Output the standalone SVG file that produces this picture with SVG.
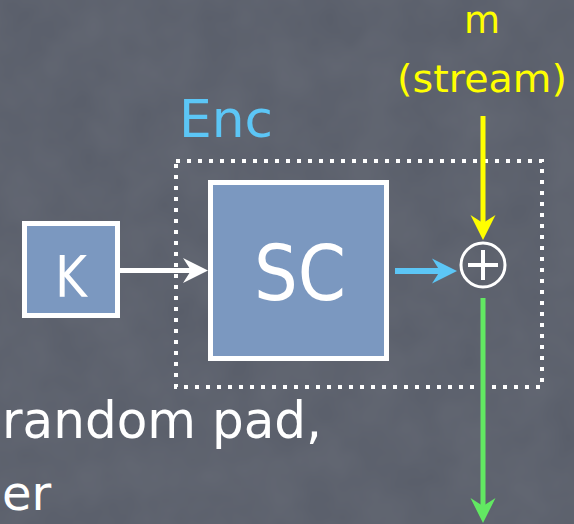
<svg xmlns="http://www.w3.org/2000/svg" width="574" height="524" viewBox="0 0 574 524">
  <defs>
    <style>
      .lbl { font-family: "DejaVu Sans", "Liberation Sans", sans-serif; }
      .box { fill: #7b98c0; stroke: #ffffff; stroke-width: 5; }
      .conn { fill: none; stroke-linecap: butt; }
    </style>
    <filter id="chalk" x="0" y="0" width="100%" height="100%">
      <feTurbulence type="fractalNoise" baseFrequency="0.02" numOctaves="3" seed="4" result="n"/>
      <feColorMatrix in="n" type="matrix" values="0 0 0 0 1  0 0 0 0 1  0 0 0 0 1  0 0 0 0.07 0"/>
    </filter>
    <marker id="ah-white" markerUnits="userSpaceOnUse" viewBox="-27 -14 28 28" markerWidth="28" markerHeight="28" refX="-15" refY="0" orient="auto">
      <path d="M0,0 L-25,-12.5 L-17,0 L-25,12.5 Z" fill="#ffffff"/>
    </marker>
    <marker id="ah-blue" markerUnits="userSpaceOnUse" viewBox="-27 -14 28 28" markerWidth="28" markerHeight="28" refX="-15" refY="0" orient="auto">
      <path d="M0,0 L-25,-12.5 L-17,0 L-25,12.5 Z" fill="#5cc6f6"/>
    </marker>
    <marker id="ah-yellow" markerUnits="userSpaceOnUse" viewBox="-27 -14 28 28" markerWidth="28" markerHeight="28" refX="-15" refY="0" orient="auto">
      <path d="M0,0 L-25,-12.5 L-17,0 L-25,12.5 Z" fill="#ffff00"/>
    </marker>
    <marker id="ah-green" markerUnits="userSpaceOnUse" viewBox="-27 -14 28 28" markerWidth="28" markerHeight="28" refX="-15" refY="0" orient="auto">
      <path d="M0,0 L-25,-12.5 L-17,0 L-25,12.5 Z" fill="#62e862"/>
    </marker>
  </defs>

  <rect x="0" y="0" width="574" height="524" fill="#585d69"/>
  <rect x="0" y="0" width="574" height="524" filter="url(#chalk)"/>

  <g id="enc-box">
    <rect x="176" y="161" width="366" height="226" fill="none" stroke="#ffffff" stroke-width="4" stroke-dasharray="4 7"/>
    <text class="lbl" x="179" y="137" font-size="52" fill="#5cc6f6" textLength="94" lengthAdjust="spacingAndGlyphs">Enc</text>
  </g>

  <g id="node-k">
    <rect class="box" x="24.5" y="223.5" width="93" height="92"/>
    <text class="lbl" x="71" y="297" font-size="57" fill="#ffffff" text-anchor="middle" textLength="32" lengthAdjust="spacingAndGlyphs">K</text>
  </g>

  <g id="node-sc">
    <rect class="box" x="210.5" y="182.5" width="176" height="176"/>
    <text class="lbl" x="300" y="300" font-size="76" fill="#ffffff" text-anchor="middle" textLength="92" lengthAdjust="spacingAndGlyphs">SC</text>
  </g>

  <g id="node-xor">
    <circle cx="483" cy="265" r="22" fill="none" stroke="#ffffff" stroke-width="3"/>
    <path d="M468,265 H498 M483,250 V280" stroke="#ffffff" stroke-width="4" fill="none"/>
  </g>

  <g id="node-m">
    <text class="lbl" x="482" y="33" font-size="37" fill="#ffff00" text-anchor="middle">m</text>
    <text class="lbl" x="482" y="92" font-size="37" fill="#ffff00" text-anchor="middle" textLength="170" lengthAdjust="spacingAndGlyphs">(stream)</text>
  </g>

  <g id="connectors">
    <line class="conn" x1="120" y1="270.5" x2="193" y2="270.5" stroke="#ffffff" stroke-width="5" marker-end="url(#ah-white)"/>
    <line class="conn" x1="395" y1="271" x2="442" y2="271" stroke="#5cc6f6" stroke-width="6" marker-end="url(#ah-blue)"/>
    <line class="conn" x1="483" y1="116" x2="483" y2="225" stroke="#ffff00" stroke-width="5" marker-end="url(#ah-yellow)"/>
    <line class="conn" x1="483" y1="298" x2="483" y2="508" stroke="#62e862" stroke-width="5" marker-end="url(#ah-green)"/>
  </g>

  <g id="body-text">
    <text class="lbl" x="2" y="438" font-size="52" fill="#ffffff" textLength="320" lengthAdjust="spacingAndGlyphs">random pad,</text>
    <text class="lbl" x="2" y="510" font-size="48" fill="#ffffff">er</text>
  </g>
</svg>
